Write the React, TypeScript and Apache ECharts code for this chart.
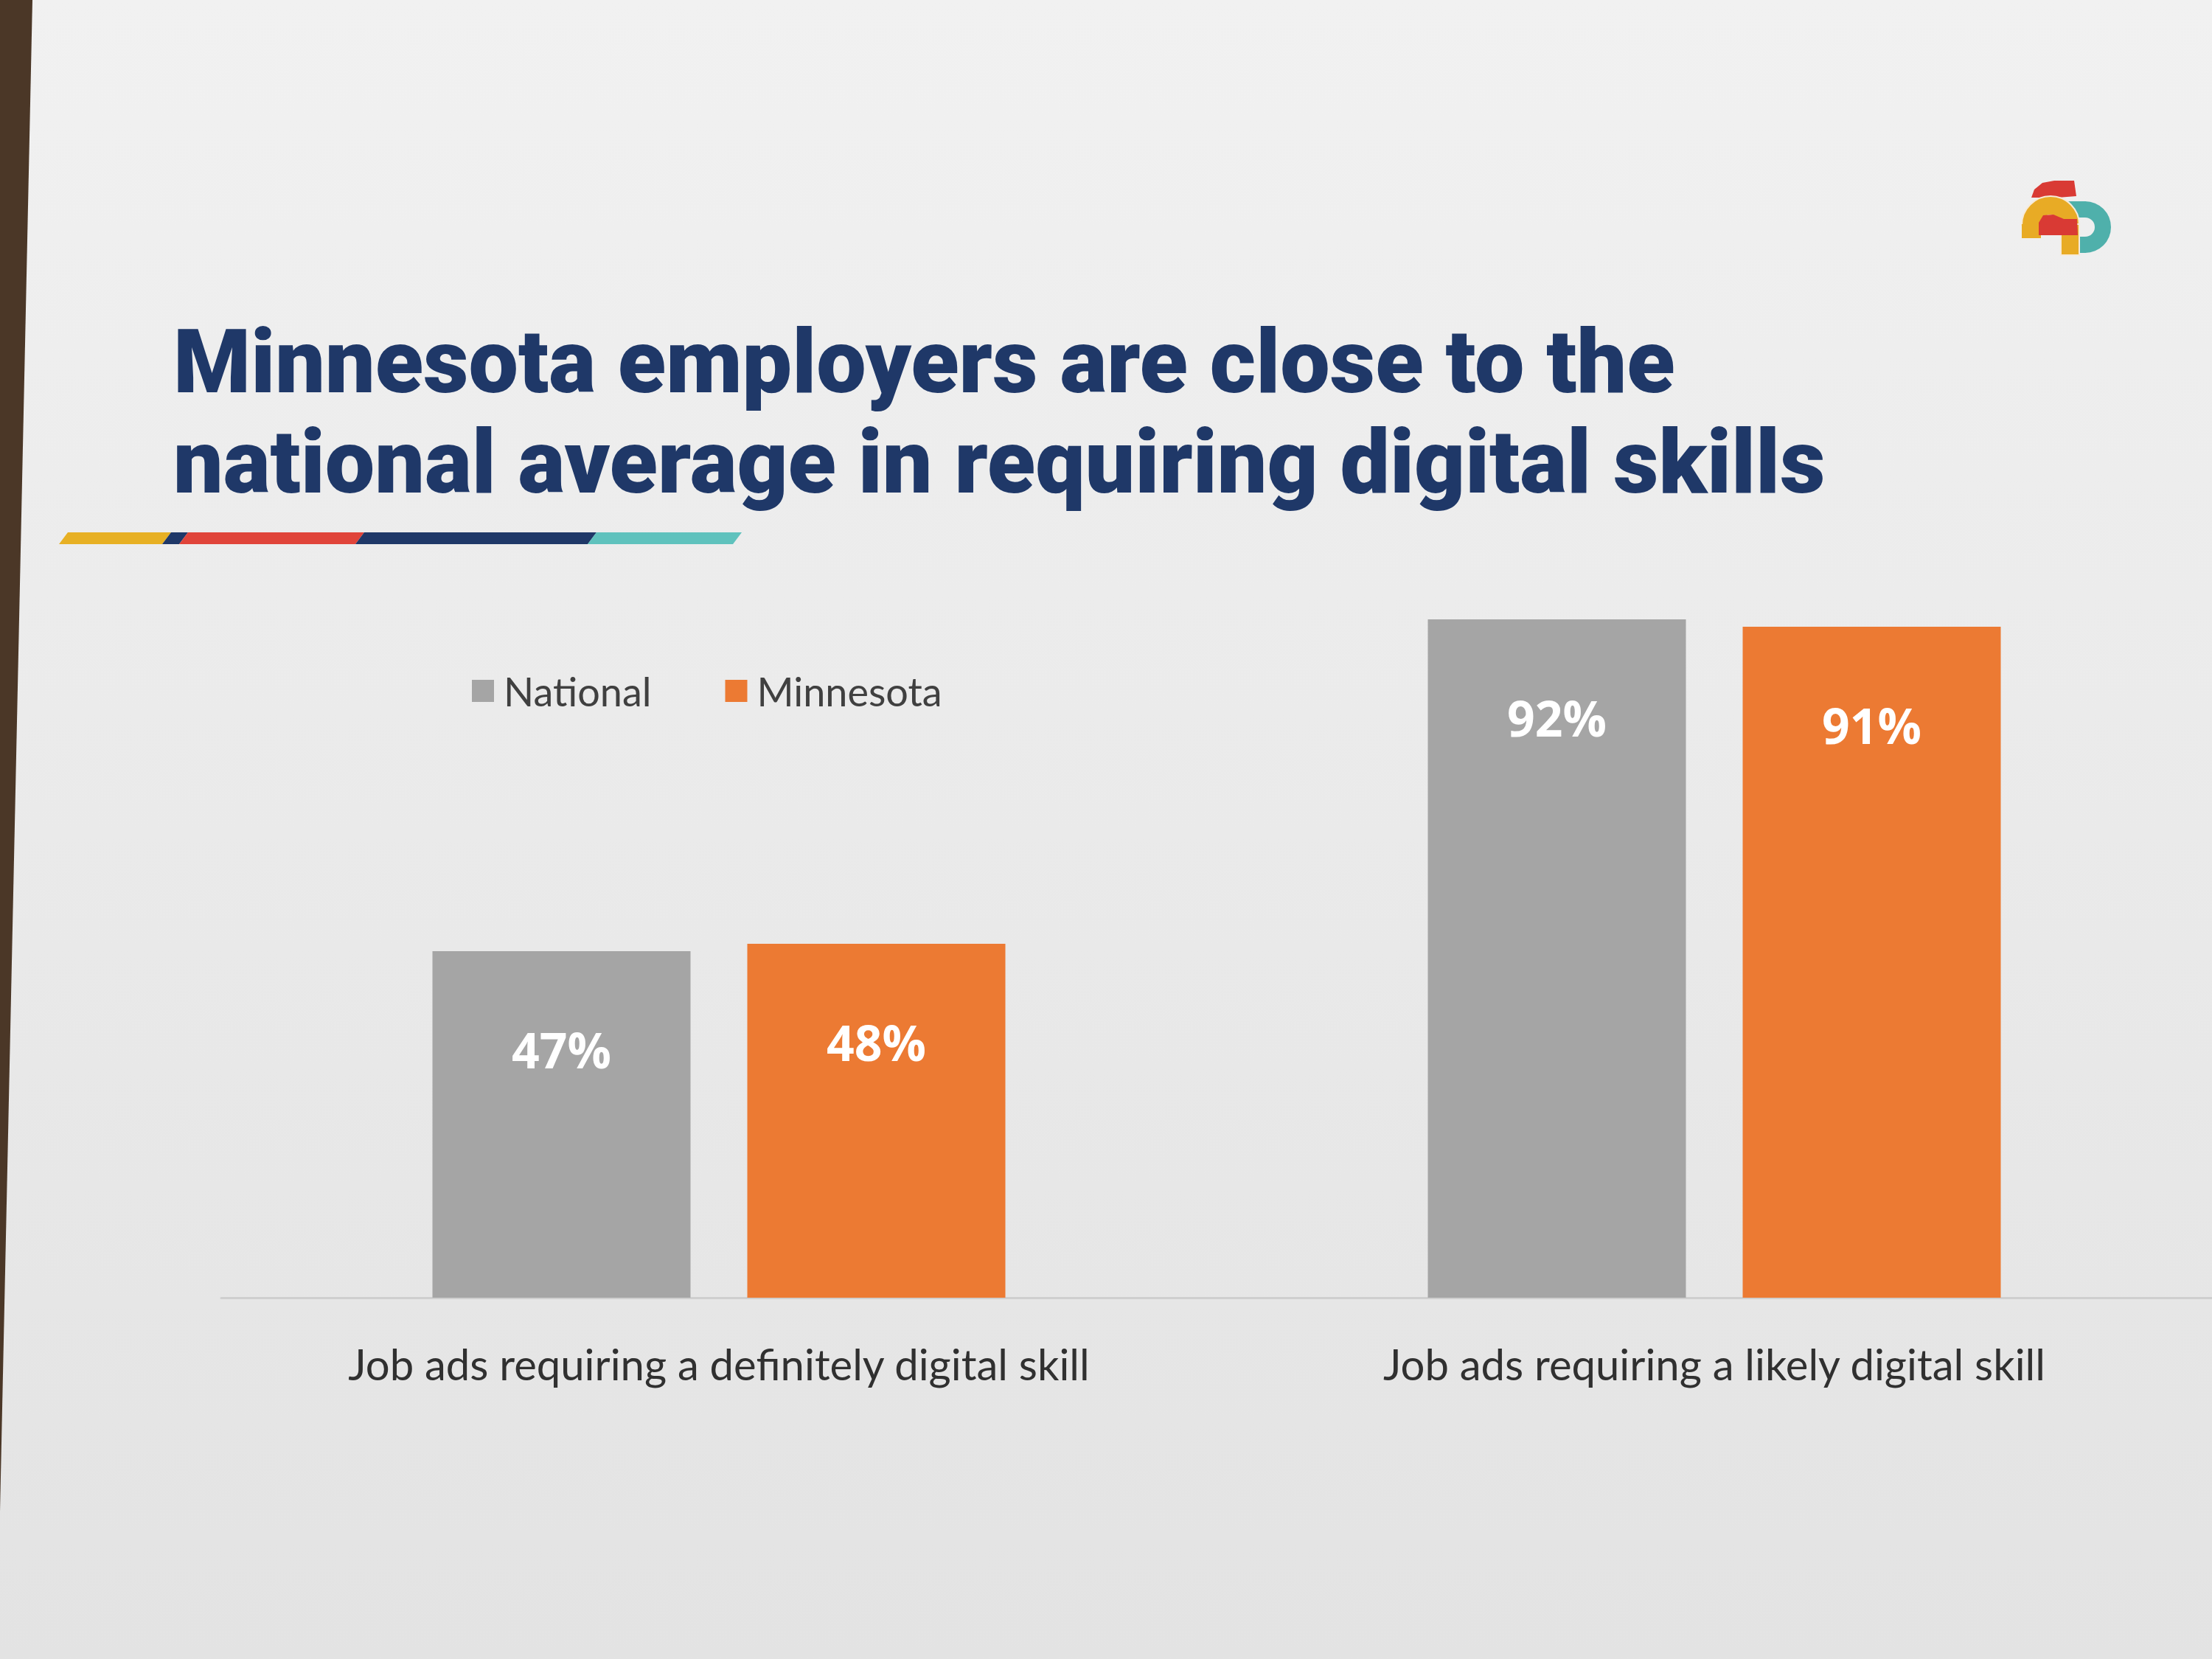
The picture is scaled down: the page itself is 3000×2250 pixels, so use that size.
import React, { useEffect, useRef } from "react";
import * as echarts from "echarts";

const categories = [
  "Job ads requiring a definitely digital skill",
  "Job ads requiring a likely digital skill",
];
const seriesNames = ["National", "Minnesota"];
const nationalValues = [47, 92];
const minnesotaValues = [48, 91];
const titleLines = [
  "Minnesota employers are close to the",
  "national average in requiring digital skills",
];

export default function App() {
  const ref = useRef<HTMLDivElement>(null);
  useEffect(() => {
    document.body.style.margin = "0";
    const chart = echarts.init(ref.current!, null, { renderer: "svg" });
    const seg = (x0: number, x1: number, color: string) => ({
      type: "polygon",
      shape: {
        points: [
          [x0 + 6, 722],
          [x1 + 6, 722],
          [x1 - 6, 738],
          [x0 - 6, 738],
        ],
      },
      style: { fill: color },
    });
    const labelStyle = {
      show: true,
      position: "insideTop",
      distance: 100,
      formatter: "{c}%",
      fontFamily: "Open Sans",
      fontWeight: "bold",
      fontSize: 66,
      color: "#ffffff",
    };
    chart.setOption({
      animation: false,
      backgroundColor: "transparent",
      title: {
        text: titleLines.join("\n"),
        left: 230,
        top: 418,
        textStyle: {
          fontFamily: "Roboto",
          fontWeight: 900,
          fontSize: 120,
          lineHeight: 136,
          color: "#1f3868",
        },
      },
      legend: {
        data: seriesNames,
        left: 635,
        top: 905,
        itemWidth: 30,
        itemHeight: 30,
        itemGap: 100,
        icon: "rect",
        textStyle: {
          fontFamily: "Lato",
          fontSize: 54,
          color: "#404040",
          padding: [0, 0, 0, 8],
        },
      },
      grid: { left: 300, right: 0, top: 760, bottom: 490 },
      xAxis: {
        type: "category",
        data: categories,
        axisLine: { show: true, lineStyle: { color: "#cfcfcf", width: 3 } },
        axisTick: { show: false },
        axisLabel: {
          fontFamily: "Lato",
          fontSize: 58,
          color: "#303030",
          margin: 60,
        },
      },
      yAxis: {
        type: "value",
        min: 0,
        max: 100,
        show: false,
        splitLine: { show: false },
      },
      series: [
        {
          name: seriesNames[0],
          type: "bar",
          data: nationalValues,
          barWidth: 350,
          barGap: "22%",
          itemStyle: { color: "#a5a5a5" },
          label: labelStyle,
        },
        {
          name: seriesNames[1],
          type: "bar",
          data: minnesotaValues,
          barWidth: 350,
          itemStyle: { color: "#ec7a33" },
          label: labelStyle,
        },
      ],
      graphic: [
        {
          type: "polygon",
          z: -1,
          shape: { points: [[0, 0], [44, 0], [0, 2050]] },
          style: { fill: "#4b3727" },
        },
        seg(86, 226, "#e7b024"),
        seg(226, 249, "#1f3868"),
        seg(249, 488, "#e0443a"),
        seg(488, 803, "#1f3868"),
        seg(803, 1000, "#5fc2bd"),
        {
          type: "group",
          children: [
            {
              type: "polygon",
              shape: {
                points: [
                  [2755, 268], [2759, 257], [2770, 248], [2786, 245],
                  [2813, 245], [2816, 266], [2790, 268],
                ],
              },
              style: { fill: "#d93a34" },
            },
            {
              type: "sector",
              shape: { cx: 2828, cy: 308, r: 35, r0: 13, startAngle: -0.5 * Math.PI, endAngle: 0.5 * Math.PI },
              style: { fill: "#4fb0ab" },
            },
            {
              type: "rect",
              shape: { x: 2803, y: 273, width: 26, height: 22 },
              style: { fill: "#4fb0ab" },
            },
            {
              type: "rect",
              shape: { x: 2815, y: 321, width: 14, height: 22 },
              style: { fill: "#4fb0ab" },
            },
            {
              type: "sector",
              shape: { cx: 2781, cy: 305, r: 39, r0: 13, startAngle: Math.PI, endAngle: 2 * Math.PI },
              style: { fill: "#e8ab25", stroke: "#f7ead8", lineWidth: 2 },
            },
            {
              type: "rect",
              shape: { x: 2742, y: 304, width: 26, height: 19 },
              style: { fill: "#e8ab25" },
            },
            {
              type: "rect",
              shape: { x: 2795, y: 304, width: 25, height: 42 },
              style: { fill: "#e8ab25", stroke: "#f7ead8", lineWidth: 2 },
            },
            {
              type: "polygon",
              shape: {
                points: [
                  [2765, 302], [2771, 292], [2785, 291], [2799, 297],
                  [2817, 297], [2818, 319], [2765, 319],
                ],
              },
              style: { fill: "#d93a34" },
            },
          ],
        },
      ],
    });
    return () => chart.dispose();
  }, []);
  return (
    <div
      ref={ref}
      style={{
        width: 3000,
        height: 2250,
        background: "linear-gradient(180deg, #f1f1f1 0%, #eaeaea 50%, #e3e3e3 100%)",
      }}
    />
  );
}
